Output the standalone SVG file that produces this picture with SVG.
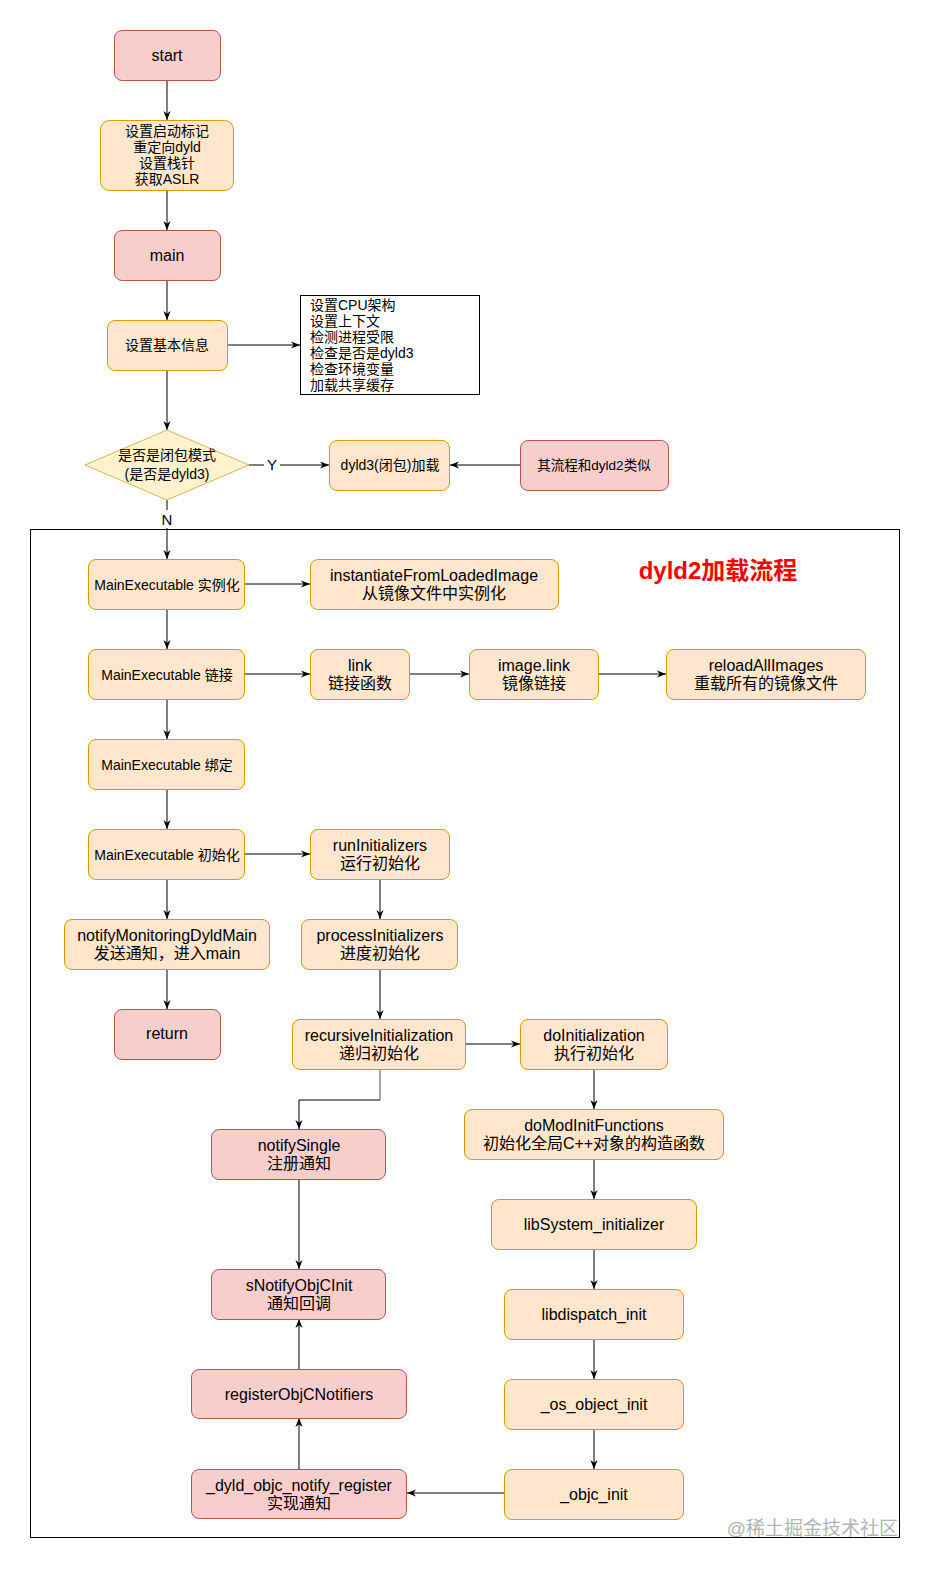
<svg xmlns="http://www.w3.org/2000/svg" width="931" height="1571" viewBox="0 0 931 1571">
<style>
text{font-family:"Liberation Sans","Noto Sans CJK SC",sans-serif;fill:#000;text-anchor:middle;dominant-baseline:central}
.p{fill:#f8cecc;stroke:#b85450;stroke-width:1}
.o{fill:#ffe6cc;stroke:#d79b00;stroke-width:1}
.y{fill:#fff2cc;stroke:#d6b656;stroke-width:1}
.s16{font-size:16px}
.s14{font-size:14px}
.s13{font-size:13.5px}
.c line,.c path{fill:none;stroke:#000;stroke-width:1;marker-end:url(#a)}
.c .g{stroke:#8a8a8a;stroke-width:1.5;marker-end:none}
.lbl{font-size:15px}
</style>
<defs>
<marker id="a" viewBox="0 0 10 10" refX="10" refY="5" markerWidth="9" markerHeight="9" markerUnits="userSpaceOnUse" orient="auto">
<path d="M0,1 L10,5 L0,9 L3,5 z" fill="#000" stroke="none"/>
</marker>
</defs>
<rect width="931" height="1571" fill="#fff"/>

<g id="container">
<rect x="30.5" y="529.5" width="869" height="1008" fill="none" stroke="#000" stroke-width="1"/>
<text x="718" y="570" style="font-size:24px;font-weight:bold;fill:#ff0000">dyld2加载流程</text>
</g>

<g class="c" id="connectors">
<line x1="167" y1="80" x2="167" y2="120"/>
<line x1="167" y1="190" x2="167" y2="230"/>
<line x1="167" y1="280" x2="167" y2="320"/>
<line x1="227" y1="345" x2="300" y2="345"/>
<line x1="167" y1="370" x2="167" y2="430"/>
<line x1="249" y1="465" x2="329" y2="465"/>
<line x1="520" y1="465" x2="450" y2="465"/>
<line x1="167" y1="500" x2="167" y2="559"/>
<line x1="245" y1="584" x2="310" y2="584"/>
<line x1="167" y1="609" x2="167" y2="649"/>
<line x1="245" y1="674" x2="310" y2="674"/>
<line x1="410" y1="674" x2="469" y2="674"/>
<line x1="599" y1="674" x2="666" y2="674"/>
<line x1="167" y1="699" x2="167" y2="739"/>
<line x1="167" y1="789" x2="167" y2="829"/>
<line x1="245" y1="854" x2="310" y2="854"/>
<line x1="167" y1="879" x2="167" y2="919"/>
<line x1="167" y1="969" x2="167" y2="1009"/>
<line x1="380" y1="879" x2="380" y2="919"/>
<line x1="380" y1="969" x2="380" y2="1019"/>
<line x1="465" y1="1044" x2="520" y2="1044"/>
<line class="g" x1="380" y1="1069" x2="380" y2="1100"/>
<path d="M380,1100 H299 V1129"/>
<line x1="594" y1="1069" x2="594" y2="1109"/>
<line x1="594" y1="1159" x2="594" y2="1199"/>
<line x1="594" y1="1249" x2="594" y2="1289"/>
<line x1="594" y1="1339" x2="594" y2="1379"/>
<line x1="594" y1="1429" x2="594" y2="1469"/>
<line x1="504" y1="1493" x2="407" y2="1493"/>
<line x1="299" y1="1469" x2="299" y2="1418"/>
<line x1="299" y1="1369" x2="299" y2="1319"/>
<line x1="299" y1="1179" x2="299" y2="1269"/>
</g>
<g id="edge-labels">
<rect x="264" y="456" width="16" height="17" fill="#fff"/>
<text x="272" y="464" class="lbl">Y</text>
<rect x="159" y="510" width="16" height="18" fill="#fff"/>
<text x="167" y="519" class="lbl">N</text>
</g>

<g id="n-start"><rect class="p" x="114.5" y="30.5" width="106" height="50" rx="7.5"/><text x="167" y="55" class="s16">start</text></g>
<g id="n-setup"><rect class="o" x="100.5" y="120.5" width="133" height="70" rx="9"/>
<text x="167" class="s14"><tspan x="167" y="131">设置启动标记</tspan><tspan x="167" y="147">重定向dyld</tspan><tspan x="167" y="163">设置栈针</tspan><tspan x="167" y="179">获取ASLR</tspan></text></g>
<g id="n-main"><rect class="p" x="114.5" y="230.5" width="106" height="50" rx="7.5"/><text x="167" y="255" class="s16">main</text></g>
<g id="n-basic"><rect class="o" x="107.5" y="320.5" width="120" height="50" rx="7.5"/><text x="167" y="345" class="s14">设置基本信息</text></g>
<g id="n-notes"><rect x="300.5" y="295.5" width="179" height="99" fill="#fff" stroke="#000" stroke-width="1"/>
<text class="s14" style="text-anchor:start"><tspan x="310" y="305">设置CPU架构</tspan><tspan x="310" y="321">设置上下文</tspan><tspan x="310" y="337">检测进程受限</tspan><tspan x="310" y="353">检查是否是dyld3</tspan><tspan x="310" y="369">检查环境变量</tspan><tspan x="310" y="385">加载共享缓存</tspan></text></g>
<g id="n-decision"><polygon class="y" points="167,430 249,465 167,500 85,465"/>
<text class="s14"><tspan x="167" y="455">是否是闭包模式</tspan><tspan x="167" y="474">(是否是dyld3)</tspan></text></g>
<g id="n-dyld3"><rect class="o" x="329.5" y="440.5" width="120" height="50" rx="7.5"/><text x="390" y="465" class="s14">dyld3(闭包)加载</text></g>
<g id="n-similar"><rect class="p" x="520.5" y="440.5" width="148" height="50" rx="7.5"/><text x="594" y="465" class="s13">其流程和dyld2类似</text></g>

<g id="n-inst"><rect class="o" x="88.5" y="559.5" width="156" height="50" rx="7.5"/><text x="167" y="585" class="s14">MainExecutable 实例化</text></g>
<g id="n-instfrom"><rect class="o" x="310.5" y="559.5" width="248" height="50" rx="7.5"/><text class="s16"><tspan x="434" y="575">instantiateFromLoadedImage</tspan><tspan x="434" y="593">从镜像文件中实例化</tspan></text></g>
<g id="n-link"><rect class="o" x="88.5" y="649.5" width="156" height="50" rx="7.5"/><text x="167" y="675" class="s14">MainExecutable 链接</text></g>
<g id="n-linkfn"><rect class="o" x="310.5" y="649.5" width="99" height="50" rx="7.5"/><text class="s16"><tspan x="360" y="665">link</tspan><tspan x="360" y="683">链接函数</tspan></text></g>
<g id="n-imagelink"><rect class="o" x="469.5" y="649.5" width="129" height="50" rx="7.5"/><text class="s16"><tspan x="534" y="665">image.link</tspan><tspan x="534" y="683">镜像链接</tspan></text></g>
<g id="n-reload"><rect class="o" x="666.5" y="649.5" width="199" height="50" rx="7.5"/><text class="s16"><tspan x="766" y="665">reloadAllImages</tspan><tspan x="766" y="683">重载所有的镜像文件</tspan></text></g>
<g id="n-bind"><rect class="o" x="88.5" y="739.5" width="156" height="50" rx="7.5"/><text x="167" y="765" class="s14">MainExecutable 绑定</text></g>
<g id="n-init"><rect class="o" x="88.5" y="829.5" width="156" height="50" rx="7.5"/><text x="167" y="855" class="s14">MainExecutable 初始化</text></g>
<g id="n-runinit"><rect class="o" x="310.5" y="829.5" width="139" height="50" rx="7.5"/><text class="s16"><tspan x="380" y="845">runInitializers</tspan><tspan x="380" y="863">运行初始化</tspan></text></g>
<g id="n-notifymain"><rect class="o" x="64.5" y="919.5" width="205" height="50" rx="7.5"/><text class="s16"><tspan x="167" y="935">notifyMonitoringDyldMain</tspan><tspan x="167" y="953">发送通知，进入main</tspan></text></g>
<g id="n-procinit"><rect class="o" x="301.5" y="919.5" width="156" height="50" rx="7.5"/><text class="s16"><tspan x="380" y="935">processInitializers</tspan><tspan x="380" y="953">进度初始化</tspan></text></g>
<g id="n-return"><rect class="p" x="114.5" y="1009.5" width="106" height="50" rx="7.5"/><text x="167" y="1033" class="s16">return</text></g>
<g id="n-recinit"><rect class="o" x="292.5" y="1019.5" width="173" height="50" rx="7.5"/><text class="s16"><tspan x="379" y="1035">recursiveInitialization</tspan><tspan x="379" y="1053">递归初始化</tspan></text></g>
<g id="n-doinit"><rect class="o" x="520.5" y="1019.5" width="147" height="50" rx="7.5"/><text class="s16"><tspan x="594" y="1035">doInitialization</tspan><tspan x="594" y="1053">执行初始化</tspan></text></g>
<g id="n-notifysingle"><rect class="p" x="211.5" y="1129.5" width="174" height="50" rx="7.5"/><text class="s16"><tspan x="299" y="1145">notifySingle</tspan><tspan x="299" y="1163">注册通知</tspan></text></g>
<g id="n-domod"><rect class="o" x="464.5" y="1109.5" width="259" height="50" rx="7.5"/><text class="s16"><tspan x="594" y="1125">doModInitFunctions</tspan><tspan x="594" y="1143">初始化全局C++对象的构造函数</tspan></text></g>
<g id="n-libsystem"><rect class="o" x="491.5" y="1199.5" width="205" height="50" rx="7.5"/><text x="594" y="1224" class="s16">libSystem_initializer</text></g>
<g id="n-snotify"><rect class="p" x="211.5" y="1269.5" width="174" height="50" rx="7.5"/><text class="s16"><tspan x="299" y="1285">sNotifyObjCInit</tspan><tspan x="299" y="1303">通知回调</tspan></text></g>
<g id="n-libdispatch"><rect class="o" x="504.5" y="1289.5" width="179" height="50" rx="7.5"/><text x="594" y="1314" class="s16">libdispatch_init</text></g>
<g id="n-register"><rect class="p" x="191.5" y="1369.5" width="215" height="49" rx="7.5"/><text x="299" y="1394" class="s16">registerObjCNotifiers</text></g>
<g id="n-osobj"><rect class="o" x="504.5" y="1379.5" width="179" height="50" rx="7.5"/><text x="594" y="1404" class="s16">_os_object_init</text></g>
<g id="n-dyldreg"><rect class="p" x="191.5" y="1469.5" width="215" height="49" rx="7.5"/><text class="s16"><tspan x="299" y="1485">_dyld_objc_notify_register</tspan><tspan x="299" y="1503">实现通知</tspan></text></g>
<g id="n-objcinit"><rect class="o" x="504.5" y="1469.5" width="179" height="50" rx="7.5"/><text x="594" y="1494" class="s16">_objc_init</text></g>

<text x="898" y="1528" style="font-size:19px;fill:#a8a8a8;text-anchor:end;opacity:0.85">@稀土掘金技术社区</text>
</svg>
